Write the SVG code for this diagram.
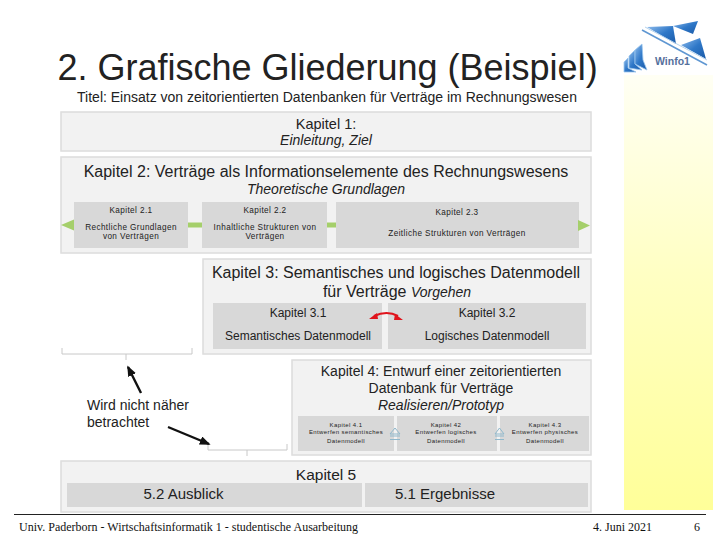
<svg xmlns="http://www.w3.org/2000/svg" width="720" height="540" viewBox="0 0 720 540">
<style>
text{font-family:"Liberation Sans",Arial,sans-serif;text-anchor:middle;fill:#222}
.outer{fill:#f2f2f2;stroke:#dcdcdc;stroke-width:1.5}
.inner{fill:#d8d8d8}
.h{font-size:16px}
.m{font-size:12px}
.i{font-size:14px;font-style:italic}
.s{font-size:8.200px;letter-spacing:.4px}
.t{font-size:6px;letter-spacing:.4px}
.f{font-family:"Liberation Serif",serif;font-size:12px}
.br{fill:none;stroke:#c8c8c8;stroke-width:1}
.ar{fill:none;stroke:#111;stroke-width:2.400}
.gr{stroke:#a5cf6b;stroke-width:5;fill:none}
.bk{fill:url(#b);stroke:#9cc6ee;stroke-width:.8}
</style>
<defs>
<linearGradient id="y" x1="0" y1="0" x2="0" y2="1"><stop offset="0" stop-color="#fffff4"/><stop offset=".45" stop-color="#ffffc4"/><stop offset="1" stop-color="#ffff99"/></linearGradient>
<linearGradient id="b" x1="0" y1="0" x2="1" y2="1"><stop offset="0" stop-color="#8fbcec"/><stop offset=".5" stop-color="#2f78c8"/><stop offset="1" stop-color="#1a5aa8"/></linearGradient>
<marker id="ah" markerWidth="4.500" markerHeight="3.600" refX="3.800" refY="1.800" orient="auto"><path d="M0 0L4.500 1.800L0 3.600z" fill="#111"/></marker>
</defs>
<rect x="624" y="75" width="89" height="435" fill="url(#y)"/>
<g id="logo">
<path class="bk" style="stroke:none" d="M647 27L673 26L676 44Z"/>
<path class="bk" style="stroke:none" d="M673 26L698 21L693 34Z"/>
<path class="bk" style="stroke:none" d="M681 45L700 38L706 59Z"/>
<path d="M642 30L707 65" stroke="#5f97d2" stroke-width="1.500" fill="none"/>
<path d="M645 27L707 60" stroke="#b5d3ee" stroke-width="1" fill="none"/>
<path class="bk" d="M624 72V62L628 58V68L636 72Z"/>
<path class="bk" d="M629 68V56L635 50V64L642 70Z"/>
<path class="bk" d="M635 64V50L642 44L643 60L647 70Z"/>
<text x="655" y="65" style="font-size:10.500px;font-weight:bold;fill:#55709c;text-anchor:start">Winfo1</text>
</g>
<text x="327.500" y="80" style="font-size:36px">2. Grafische Gliederung (Beispiel)</text>
<text x="327" y="102" style="font-size:14px">Titel: Einsatz von zeitorientierten Datenbanken für Verträge im Rechnungswesen</text>

<g id="k1"><rect class="outer" x="61" y="112" width="530" height="39"/>
<text x="326" y="129" style="font-size:14.500px">Kapitel 1:</text>
<text class="i" x="326" y="145">Einleitung, Ziel</text></g>

<g id="k2"><rect class="outer" x="61" y="157" width="530" height="96"/>
<text class="h" x="326" y="177">Kapitel 2: Verträge als Informationselemente des Rechnungswesens</text>
<text class="i" x="326" y="194">Theoretische Grundlagen</text></g>

<g id="k21"><rect class="inner" x="74" y="202" width="114" height="46"/>
<text class="s" x="131" y="213">Kapitel 2.1</text><text class="s" x="131" y="230">Rechtliche Grundlagen</text><text class="s" x="131" y="239">von Verträgen</text></g>
<g id="k22"><rect class="inner" x="202" y="202" width="125" height="46"/>
<text class="s" x="265" y="213">Kapitel 2.2</text><text class="s" x="265" y="230">Inhaltliche Strukturen von</text><text class="s" x="265" y="239">Verträgen</text></g>
<g id="k23"><rect class="inner" x="336" y="202" width="243" height="46"/>
<text class="s" x="457" y="215">Kapitel 2.3</text><text class="s" x="457" y="236">Zeitliche Strukturen von Verträgen</text></g>

<g id="k3"><rect class="outer" x="203" y="259" width="388" height="95"/>
<text class="h" x="396" y="278">Kapitel 3: Semantisches und logisches Datenmodell</text>
<text class="h" x="397" y="297">für Verträge <tspan style="font-size:14px;font-style:italic">Vorgehen</tspan></text></g>
<g id="k31"><rect class="inner" x="213" y="303" width="169" height="46"/>
<text class="m" x="298" y="317">Kapitel 3.1</text><text class="m" x="298" y="340">Semantisches Datenmodell</text></g>
<g id="k32"><rect class="inner" x="388" y="303" width="198" height="46"/>
<text class="m" x="487" y="317">Kapitel 3.2</text><text class="m" x="487" y="340">Logisches Datenmodell</text></g>

<g id="note"><text x="87" y="410" style="font-size:14px;text-anchor:start">Wird nicht näher</text><text x="87" y="427" style="font-size:14px;text-anchor:start">betrachtet</text></g>

<g id="k4"><rect class="outer" x="292" y="360" width="299" height="95"/>
<text x="441" y="376" style="font-size:14px">Kapitel 4: Entwurf einer zeitorientierten</text>
<text x="441" y="393" style="font-size:14px">Datenbank für Verträge</text>
<text class="i" x="441" y="410">Realisieren/Prototyp</text></g>
<g id="k41"><rect class="inner" x="298" y="416" width="96" height="35"/>
<text class="t" x="346" y="427">Kapitel 4.1</text><text class="t" x="346" y="434">Entwerfen semantisches</text><text class="t" x="346" y="443">Datenmodell</text></g>
<g id="k42"><rect class="inner" x="397" y="416" width="100" height="35"/>
<text class="t" x="446" y="427">Kapitel 42</text><text class="t" x="446" y="434">Entwerfen logisches</text><text class="t" x="446" y="443">Datenmodell</text></g>
<g id="k43"><rect class="inner" x="500" y="416" width="89" height="35"/>
<text class="t" x="545" y="427">Kapitel 4.3</text><text class="t" x="545" y="434">Entwerfen physisches</text><text class="t" x="545" y="443">Datenmodell</text></g>

<g id="k5"><rect class="outer" x="61" y="461" width="530" height="51"/>
<text x="326" y="480" style="font-size:15.500px">Kapitel 5</text></g>
<g id="k52"><rect class="inner" x="67" y="483" width="295" height="24"/><text x="183.500" y="499" style="font-size:15px">5.2 Ausblick</text></g>
<g id="k51"><rect class="inner" x="365" y="483" width="223" height="24"/><text x="445" y="499" style="font-size:15px">5.1 Ergebnisse</text></g>

<g id="connectors">
<path class="gr" d="M188 225H202M327 225H336"/>
<path d="M74 219.500V230.500L61 225Z" fill="#a5cf6b"/>
<path d="M578 220V231L590 225.500Z" fill="#a5cf6b"/>
<path d="M374 316Q387 310 398 316" fill="none" stroke="#e0141c" stroke-width="2"/>
<path d="M369 319L377 313L378 319ZM403 320L395 314L394 320Z" fill="#e0141c"/>
<path class="br" d="M62 348V354H192V348M126 354V360M208 444V450H287V444M247 450V456"/>
<path class="ar" d="M141 393L128 367" marker-end="url(#ah)"/>
<path class="ar" d="M168 427L209 444" marker-end="url(#ah)"/>
<g fill="none" stroke="#8fb8cc" stroke-width="1"><path d="M390 434L395 428L400 434ZM390 436H400M390 439.500H400"/><path d="M495 434L499.500 428L504 434ZM495 436H504M495 439.500H504"/></g>
</g>

<g id="footer"><path d="M14 514.500H706" stroke="#222" stroke-width="1"/>
<text class="f" x="19" y="531" style="text-anchor:start;fill:#111">Univ. Paderborn - Wirtschaftsinformatik 1 - studentische Ausarbeitung</text>
<text class="f" x="622.500" y="531" style="fill:#111">4. Juni 2021</text><text class="f" x="697" y="531" style="fill:#111">6</text></g>
</svg>
